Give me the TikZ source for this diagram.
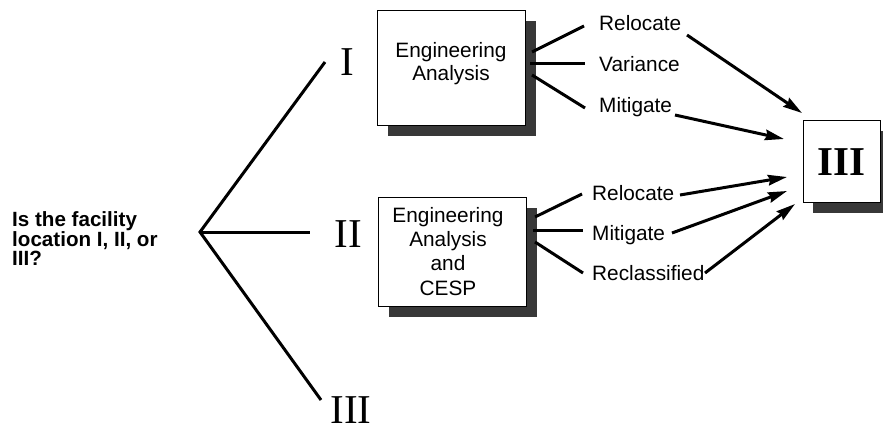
\documentclass[tikz,border=0pt]{standalone}
\usepackage{fontspec}
\setmainfont{Liberation Serif}
\newfontfamily\hv{Liberation Sans}
\usetikzlibrary{arrows.meta}
\begin{document}
\begin{tikzpicture}[x=1pt,y=-1pt,
  thick line/.style={line width=3pt},
  arr/.style={line width=3pt,-{Stealth[length=19pt,width=10.5pt,inset=2pt]}},
  box/.style={draw=black,line width=1.3pt,fill=white,inner sep=0pt,anchor=north west},
  shade/.style={fill=black!78,draw=none,inner sep=0pt,anchor=north west},
  lbl/.style={font=\hv\fontsize{20.8}{24}\selectfont,inner sep=0pt,anchor=base west},
  boxtxt/.style={font=\hv\fontsize{20.8}{24}\selectfont,inner sep=0pt,anchor=base},
  qtxt/.style={font=\hv\bfseries\fontsize{20.6}{19.2}\selectfont,inner sep=0pt,anchor=north west,align=left},
  roman/.style={font=\fontsize{41}{45}\selectfont,inner sep=0pt,anchor=base,text depth=0pt},
  romanb/.style={font=\bfseries\fontsize{41}{45}\selectfont,inner sep=0pt,anchor=base}
]
\useasboundingbox (0,0) rectangle (883,431);
\clip (0,0) rectangle (883,431);

% question
\node[qtxt] (q) at (12,211) {Is the facility\\location I, II, or\\III?};

% branching
\coordinate (v) at (200,232);
\coordinate (e1) at (325,62);
\coordinate (e2) at (310,232);
\coordinate (e3) at (321,400);
\draw[thick line] (e1) -- (v) -- (e3);
\draw[thick line] (v) -- (e2);

\node[roman] (n1) at (347.5,75) {I};
\node[roman] (n2) at (348.5,247) {II};
\node[roman] (n3) at (351,423) {III};

% box 1
\node[shade, minimum width=148pt, minimum height=115pt] (s1) at (388,21) {};
\node[box, minimum width=148pt, minimum height=115pt] (b1) at (377,10) {};
\node[boxtxt] (b1a) at (451,57) {Engineering};
\node[boxtxt] (b1b) at (451,80) {Analysis};

% box 2
\node[shade, minimum width=148pt, minimum height=109pt] (s2) at (389,208) {};
\node[box, minimum width=148pt, minimum height=109pt] (b2) at (378,197) {};
\node[boxtxt] (b2a) at (448,222) {Engineering};
\node[boxtxt] (b2b) at (448,246) {Analysis};
\node[boxtxt] (b2c) at (448,270) {and};
\node[boxtxt] (b2d) at (448,295) {CESP};

% box 3
\node[shade, minimum width=78pt, minimum height=82pt] (s3) at (813,131) {};
\node[box, minimum width=77pt, minimum height=82pt] (b3) at (803,120) {};
\node[romanb] (b3t) at (841.5,175) {III};

% labels
\node[lbl] (r1) at (599,30) {Relocate};
\node[lbl] (va) at (599,71) {Variance};
\node[lbl] (m1) at (599,112) {Mitigate};
\node[lbl] (r2) at (592,200) {Relocate};
\node[lbl] (m2) at (592,240) {Mitigate};
\node[lbl] (c2) at (592,280) {Reclassified};

% fan lines box 1
\coordinate (f1a) at (532,52);  \coordinate (f1b) at (584,26);
\coordinate (f2a) at (530,63);  \coordinate (f2b) at (585,63);
\coordinate (f3a) at (532,75);  \coordinate (f3b) at (585,108);
\draw[thick line] (f1a) -- (f1b);
\draw[thick line] (f2a) -- (f2b);
\draw[thick line] (f3a) -- (f3b);

% fan lines box 2
\coordinate (g1a) at (535,217); \coordinate (g1b) at (582,194);
\coordinate (g2a) at (533,230); \coordinate (g2b) at (583,230);
\coordinate (g3a) at (535,242); \coordinate (g3b) at (583,273);
\draw[thick line] (g1a) -- (g1b);
\draw[thick line] (g2a) -- (g2b);
\draw[thick line] (g3a) -- (g3b);

% arrows
\coordinate (a1) at (687,35);  \coordinate (t1) at (802,113);
\coordinate (a2) at (675,115); \coordinate (t2) at (784,139);
\coordinate (a3) at (680,195); \coordinate (t3) at (787,177);
\coordinate (a4) at (672,233); \coordinate (t4) at (787,191);
\coordinate (a5) at (705,273); \coordinate (t5) at (795,204);
\draw[arr] (a1) -- (t1);
\draw[arr] (a2) -- (t2);
\draw[arr] (a3) -- (t3);
\draw[arr] (a4) -- (t4);
\draw[arr] (a5) -- (t5);
\end{tikzpicture}
\end{document}
